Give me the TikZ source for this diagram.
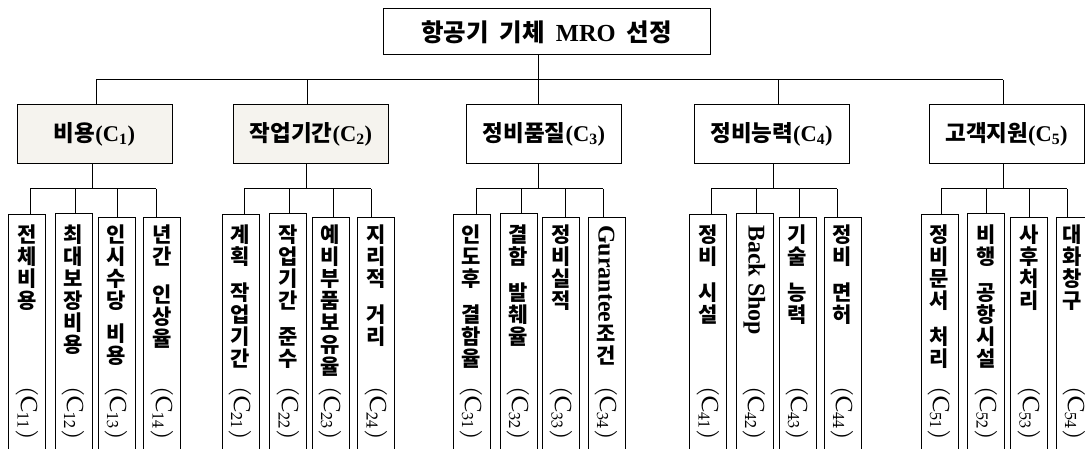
\documentclass[tikz,border=0pt]{standalone}
\usepackage{fontspec}
\usepackage{graphicx}
\setmainfont{texgyrepagella-regular.otf}
\newfontfamily\palb{Liberation Serif}
\newfontfamily\kr{Noto Sans CJK KR}
\definecolor{boxfill}{HTML}{F5F3EE}
\newcommand\K[1]{{\kr\bfseries #1}}
\newcommand\B[1]{{\palb\bfseries #1}}
\newcommand\codelabel[1]{\rotatebox{-90}{(C\textsubscript{#1})}}
\newcommand\rot[1]{\rotatebox{-90}{\palb\bfseries\fontsize{24}{26}\selectfont #1}}
\tikzset{
  link/.style={line width=1pt},
  rootbox/.style={draw, line width=1pt, minimum width=327pt, minimum height=46pt, inner sep=0pt, font=\fontsize{24.5}{27}\selectfont},
  catbox/.style={draw, line width=1pt, minimum width=155pt, minimum height=59pt, inner sep=0pt, font=\fontsize{22.5}{26}\selectfont},
  leafbox/.style={draw, line width=0.9pt, minimum width=37pt, minimum height=300pt, anchor=north, inner sep=0pt},
  ltext/.style={anchor=north, align=center, inner sep=0pt, font=\kr\bfseries\fontsize{21}{22}\selectfont},
  codetext/.style={inner sep=0pt, font=\rmfamily\fontsize{23}{26}\selectfont}
}
\begin{document}
\begin{tikzpicture}[x=1pt,y=-1pt]
\useasboundingbox (0,0) rectangle (1085,449);

% root
\node[rootbox] (root) at (546.5,32) {\K{항공기\hspace{0.45em}기체}\hspace{0.45em}\B{MRO}\hspace{0.45em}\K{선정}};

% categories
\node[catbox, fill=boxfill] (c1) at (94.5,134.5) {\K{비용}\B{(C\textsubscript{1})}};
\node[catbox, fill=boxfill] (c2) at (311,134.5) {\K{작업기간}\B{(C\textsubscript{2})}};
\node[catbox] (c3) at (544,134.5) {\K{정비품질}\B{(C\textsubscript{3})}};
\node[catbox] (c4) at (771.5,134.5) {\K{정비능력}\B{(C\textsubscript{4})}};
\node[catbox] (c5) at (1006.5,134.5) {\K{고객지원}\B{(C\textsubscript{5})}};

% top bus
\coordinate (d1) at (96,80);
\coordinate (d2) at (307,80);
\coordinate (d3) at (538,80);
\coordinate (d4) at (778,80);
\coordinate (d5) at (1003,80);
\draw[link] (d1) -- (d5);
\draw[link] (root.south -| d3) -- (c3.north -| d3);
\foreach \i in {1,2,4,5} {\draw[link] (d\i) -- (d\i |- c\i.north);}

% sub buses
\coordinate (v1) at (92,189);
\coordinate (v2) at (306,189);
\coordinate (v3) at (538,189);
\coordinate (v4) at (773,189);
\coordinate (v5) at (1003,189);
\foreach \i in {1,...,5} {\draw[link] (v\i |- c\i.south) -- (v\i);}

% leaves
\foreach \n/\cx/\bx/\ty in {
  11/27/30/214, 12/73.5/75/213, 13/116.5/117/217, 14/162/156/217,
  21/240.5/244/214, 22/288/289/213, 23/330.5/333/217, 24/376/371/217,
  31/471.5/476/214, 32/518.5/521/213, 33/561/565/217, 34/606.5/603/217,
  41/708/711/214, 42/754.5/756/213, 43/797.5/799/217, 44/842.5/837/217,
  51/939.5/941/214, 52/986/986/213, 53/1029/1029/217, 54/1074.5/1067/217} {
  \node[leafbox] (l\n) at (\cx,\ty) {};
  \coordinate (b\n) at (\bx,189);
  \draw[link] (b\n) -- (b\n |- l\n.north);
  \node[codetext] (k\n) at (\cx,413) {\codelabel{\n}};
}
\foreach \g in {1,...,5} {\draw[link] (b\g1) -- (b\g4);}

% leaf texts
\node[ltext] at (27,225) {전\\체\\비\\용};
\node[ltext] at (73.5,225) {최\\대\\보\\장\\비\\용};
\node[ltext] at (116.5,225) {인\\시\\수\\당\\[11pt]비\\용};
\node[ltext] at (162,225) {년\\간\\[16pt]인\\상\\율};

\node[ltext] at (240.5,225) {계\\획\\[14pt]작\\업\\기\\간};
\node[ltext] at (288,225) {작\\업\\기\\간\\[14pt]준\\수};
\node[ltext] at (330.5,225) {예\\비\\부\\품\\보\\유\\율};
\node[ltext] at (376,225) {지\\리\\적\\[14pt]거\\리};

\node[ltext] at (471.5,225) {인\\도\\후\\[14pt]결\\함\\율};
\node[ltext] at (518.5,225) {결\\함\\[14pt]발\\췌\\율};
\node[ltext] at (561,225) {정\\비\\실\\적};
\node[ltext] at (606.5,225) {\rot{Gurantee}\\[2pt]조\\건};

\node[ltext] at (708,225) {정\\비\\[14pt]시\\설};
\node[ltext] at (754.5,225) {\rot{Back Shop}};
\node[ltext] at (797.5,225) {기\\술\\[14pt]능\\력};
\node[ltext] at (842.5,225) {정\\비\\[14pt]면\\허};

\node[ltext] at (939.5,225) {정\\비\\문\\서\\[14pt]처\\리};
\node[ltext] at (986,225) {비\\행\\[14pt]공\\항\\시\\설};
\node[ltext] at (1029,225) {사\\후\\처\\리};
\node[ltext] at (1072,225) {대\\화\\창\\구};
\end{tikzpicture}
\end{document}
